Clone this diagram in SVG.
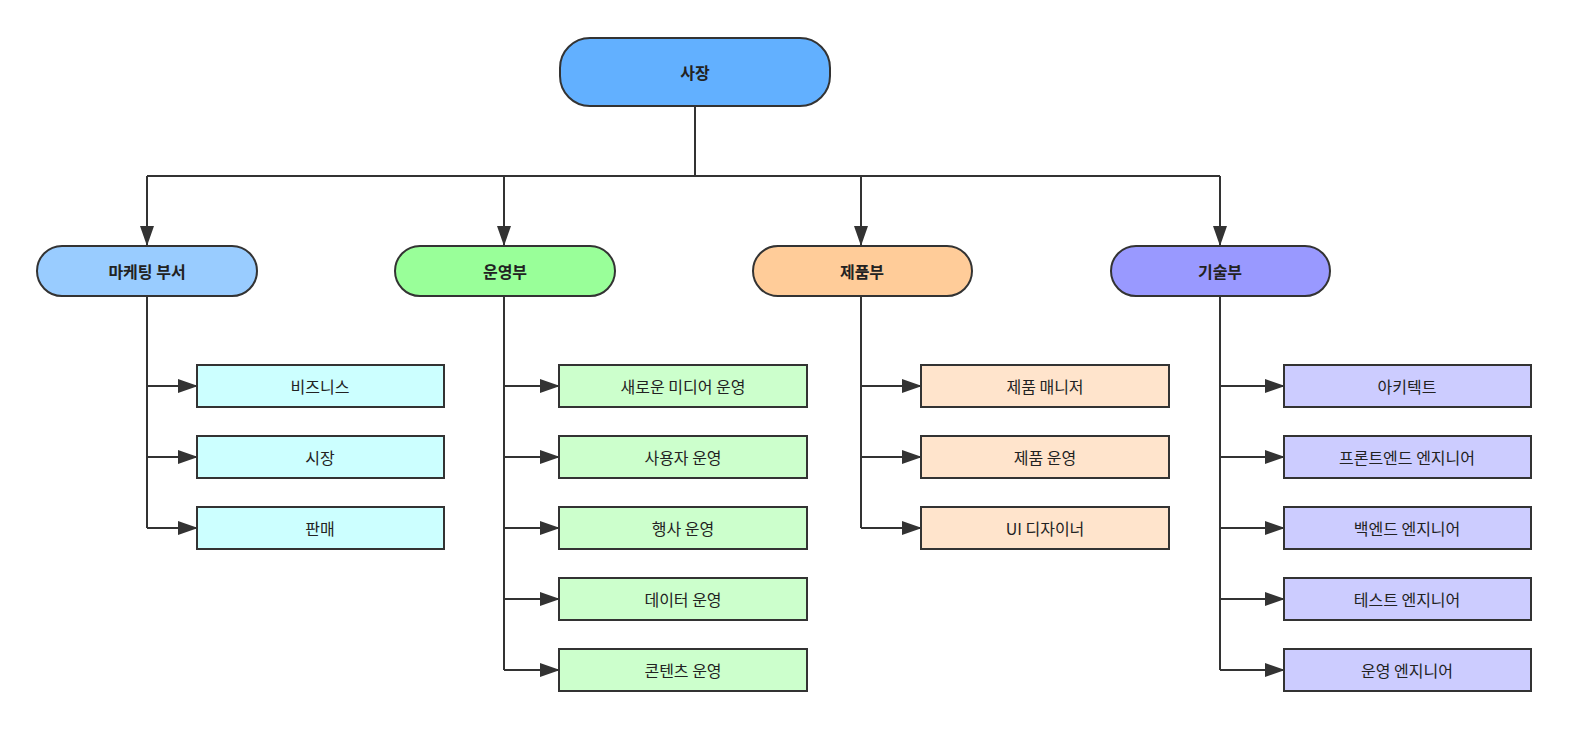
<svg xmlns="http://www.w3.org/2000/svg" width="1580" height="733" viewBox="0 0 1580 733">
<style>
.n{stroke:#333;stroke-width:2}
.t{font-family:"Noto Sans CJK KR","Noto Sans",sans-serif;font-size:16px;fill:#222;text-anchor:middle;dominant-baseline:central}
.b{font-weight:bold}
.c{fill:none;stroke:#333;stroke-width:2}
.ar{fill:none;stroke:#333;stroke-width:2;marker-end:url(#a2)}
</style>
<defs>
<marker id="a2" markerWidth="20" markerHeight="14" refX="19" refY="7" orient="auto" markerUnits="userSpaceOnUse"><path d="M0,0L20,7L0,14z" fill="#333"/></marker></defs>
<rect width="1580" height="733" fill="#fff"/>
<g id="connectors">
<path class="c" d="M695,106V176M147,176H1220"/>
<path class="ar" d="M147,176V245"/>
<path class="ar" d="M504,176V245"/>
<path class="ar" d="M861,176V245"/>
<path class="ar" d="M1220,176V245"/>
<path class="c" d="M147,296V528M504,296V670M861,296V528M1220,296V670"/>
<path class="ar" d="M147,386H197"/><path class="ar" d="M147,457H197"/><path class="ar" d="M147,528H197"/>
<path class="ar" d="M504,386H559"/><path class="ar" d="M504,457H559"/><path class="ar" d="M504,528H559"/><path class="ar" d="M504,599H559"/><path class="ar" d="M504,670H559"/>
<path class="ar" d="M861,386H921"/><path class="ar" d="M861,457H921"/><path class="ar" d="M861,528H921"/>
<path class="ar" d="M1220,386H1284"/><path class="ar" d="M1220,457H1284"/><path class="ar" d="M1220,528H1284"/><path class="ar" d="M1220,599H1284"/><path class="ar" d="M1220,670H1284"/>
</g>
<g id="ceo"><rect class="n" x="560" y="38" width="270" height="68" rx="30" fill="#62b0ff"/><text class="t b" x="695" y="72">사장</text></g>
<g id="mkt"><rect class="n" x="37" y="246" width="220" height="50" rx="25" fill="#99ccff"/><text class="t b" x="147" y="271">마케팅 부서</text></g>
<g id="ops"><rect class="n" x="395" y="246" width="220" height="50" rx="25" fill="#99ff99"/><text class="t b" x="505" y="271">운영부</text></g>
<g id="prd"><rect class="n" x="753" y="246" width="219" height="50" rx="25" fill="#ffcc99"/><text class="t b" x="862" y="271">제품부</text></g>
<g id="tec"><rect class="n" x="1111" y="246" width="219" height="50" rx="25" fill="#9999ff"/><text class="t b" x="1220" y="271">기술부</text></g>
<g id="m1"><rect class="n" x="197" y="365" width="247" height="42" fill="#ccffff"/><text class="t" x="320" y="386">비즈니스</text></g>
<g id="m2"><rect class="n" x="197" y="436" width="247" height="42" fill="#ccffff"/><text class="t" x="320" y="457">시장</text></g>
<g id="m3"><rect class="n" x="197" y="507" width="247" height="42" fill="#ccffff"/><text class="t" x="320" y="528">판매</text></g>
<g id="o1"><rect class="n" x="559" y="365" width="248" height="42" fill="#ccffcc"/><text class="t" x="683" y="386">새로운 미디어 운영</text></g>
<g id="o2"><rect class="n" x="559" y="436" width="248" height="42" fill="#ccffcc"/><text class="t" x="683" y="457">사용자 운영</text></g>
<g id="o3"><rect class="n" x="559" y="507" width="248" height="42" fill="#ccffcc"/><text class="t" x="683" y="528">행사 운영</text></g>
<g id="o4"><rect class="n" x="559" y="578" width="248" height="42" fill="#ccffcc"/><text class="t" x="683" y="599">데이터 운영</text></g>
<g id="o5"><rect class="n" x="559" y="649" width="248" height="42" fill="#ccffcc"/><text class="t" x="683" y="670">콘텐츠 운영</text></g>
<g id="p1"><rect class="n" x="921" y="365" width="248" height="42" fill="#ffe4cc"/><text class="t" x="1045" y="386">제품 매니저</text></g>
<g id="p2"><rect class="n" x="921" y="436" width="248" height="42" fill="#ffe4cc"/><text class="t" x="1045" y="457">제품 운영</text></g>
<g id="p3"><rect class="n" x="921" y="507" width="248" height="42" fill="#ffe4cc"/><text class="t" x="1045" y="528">UI 디자이너</text></g>
<g id="t1"><rect class="n" x="1284" y="365" width="247" height="42" fill="#ccccff"/><text class="t" x="1407" y="386">아키텍트</text></g>
<g id="t2"><rect class="n" x="1284" y="436" width="247" height="42" fill="#ccccff"/><text class="t" x="1407" y="457">프론트엔드 엔지니어</text></g>
<g id="t3"><rect class="n" x="1284" y="507" width="247" height="42" fill="#ccccff"/><text class="t" x="1407" y="528">백엔드 엔지니어</text></g>
<g id="t4"><rect class="n" x="1284" y="578" width="247" height="42" fill="#ccccff"/><text class="t" x="1407" y="599">테스트 엔지니어</text></g>
<g id="t5"><rect class="n" x="1284" y="649" width="247" height="42" fill="#ccccff"/><text class="t" x="1407" y="670">운영 엔지니어</text></g>
</svg>
